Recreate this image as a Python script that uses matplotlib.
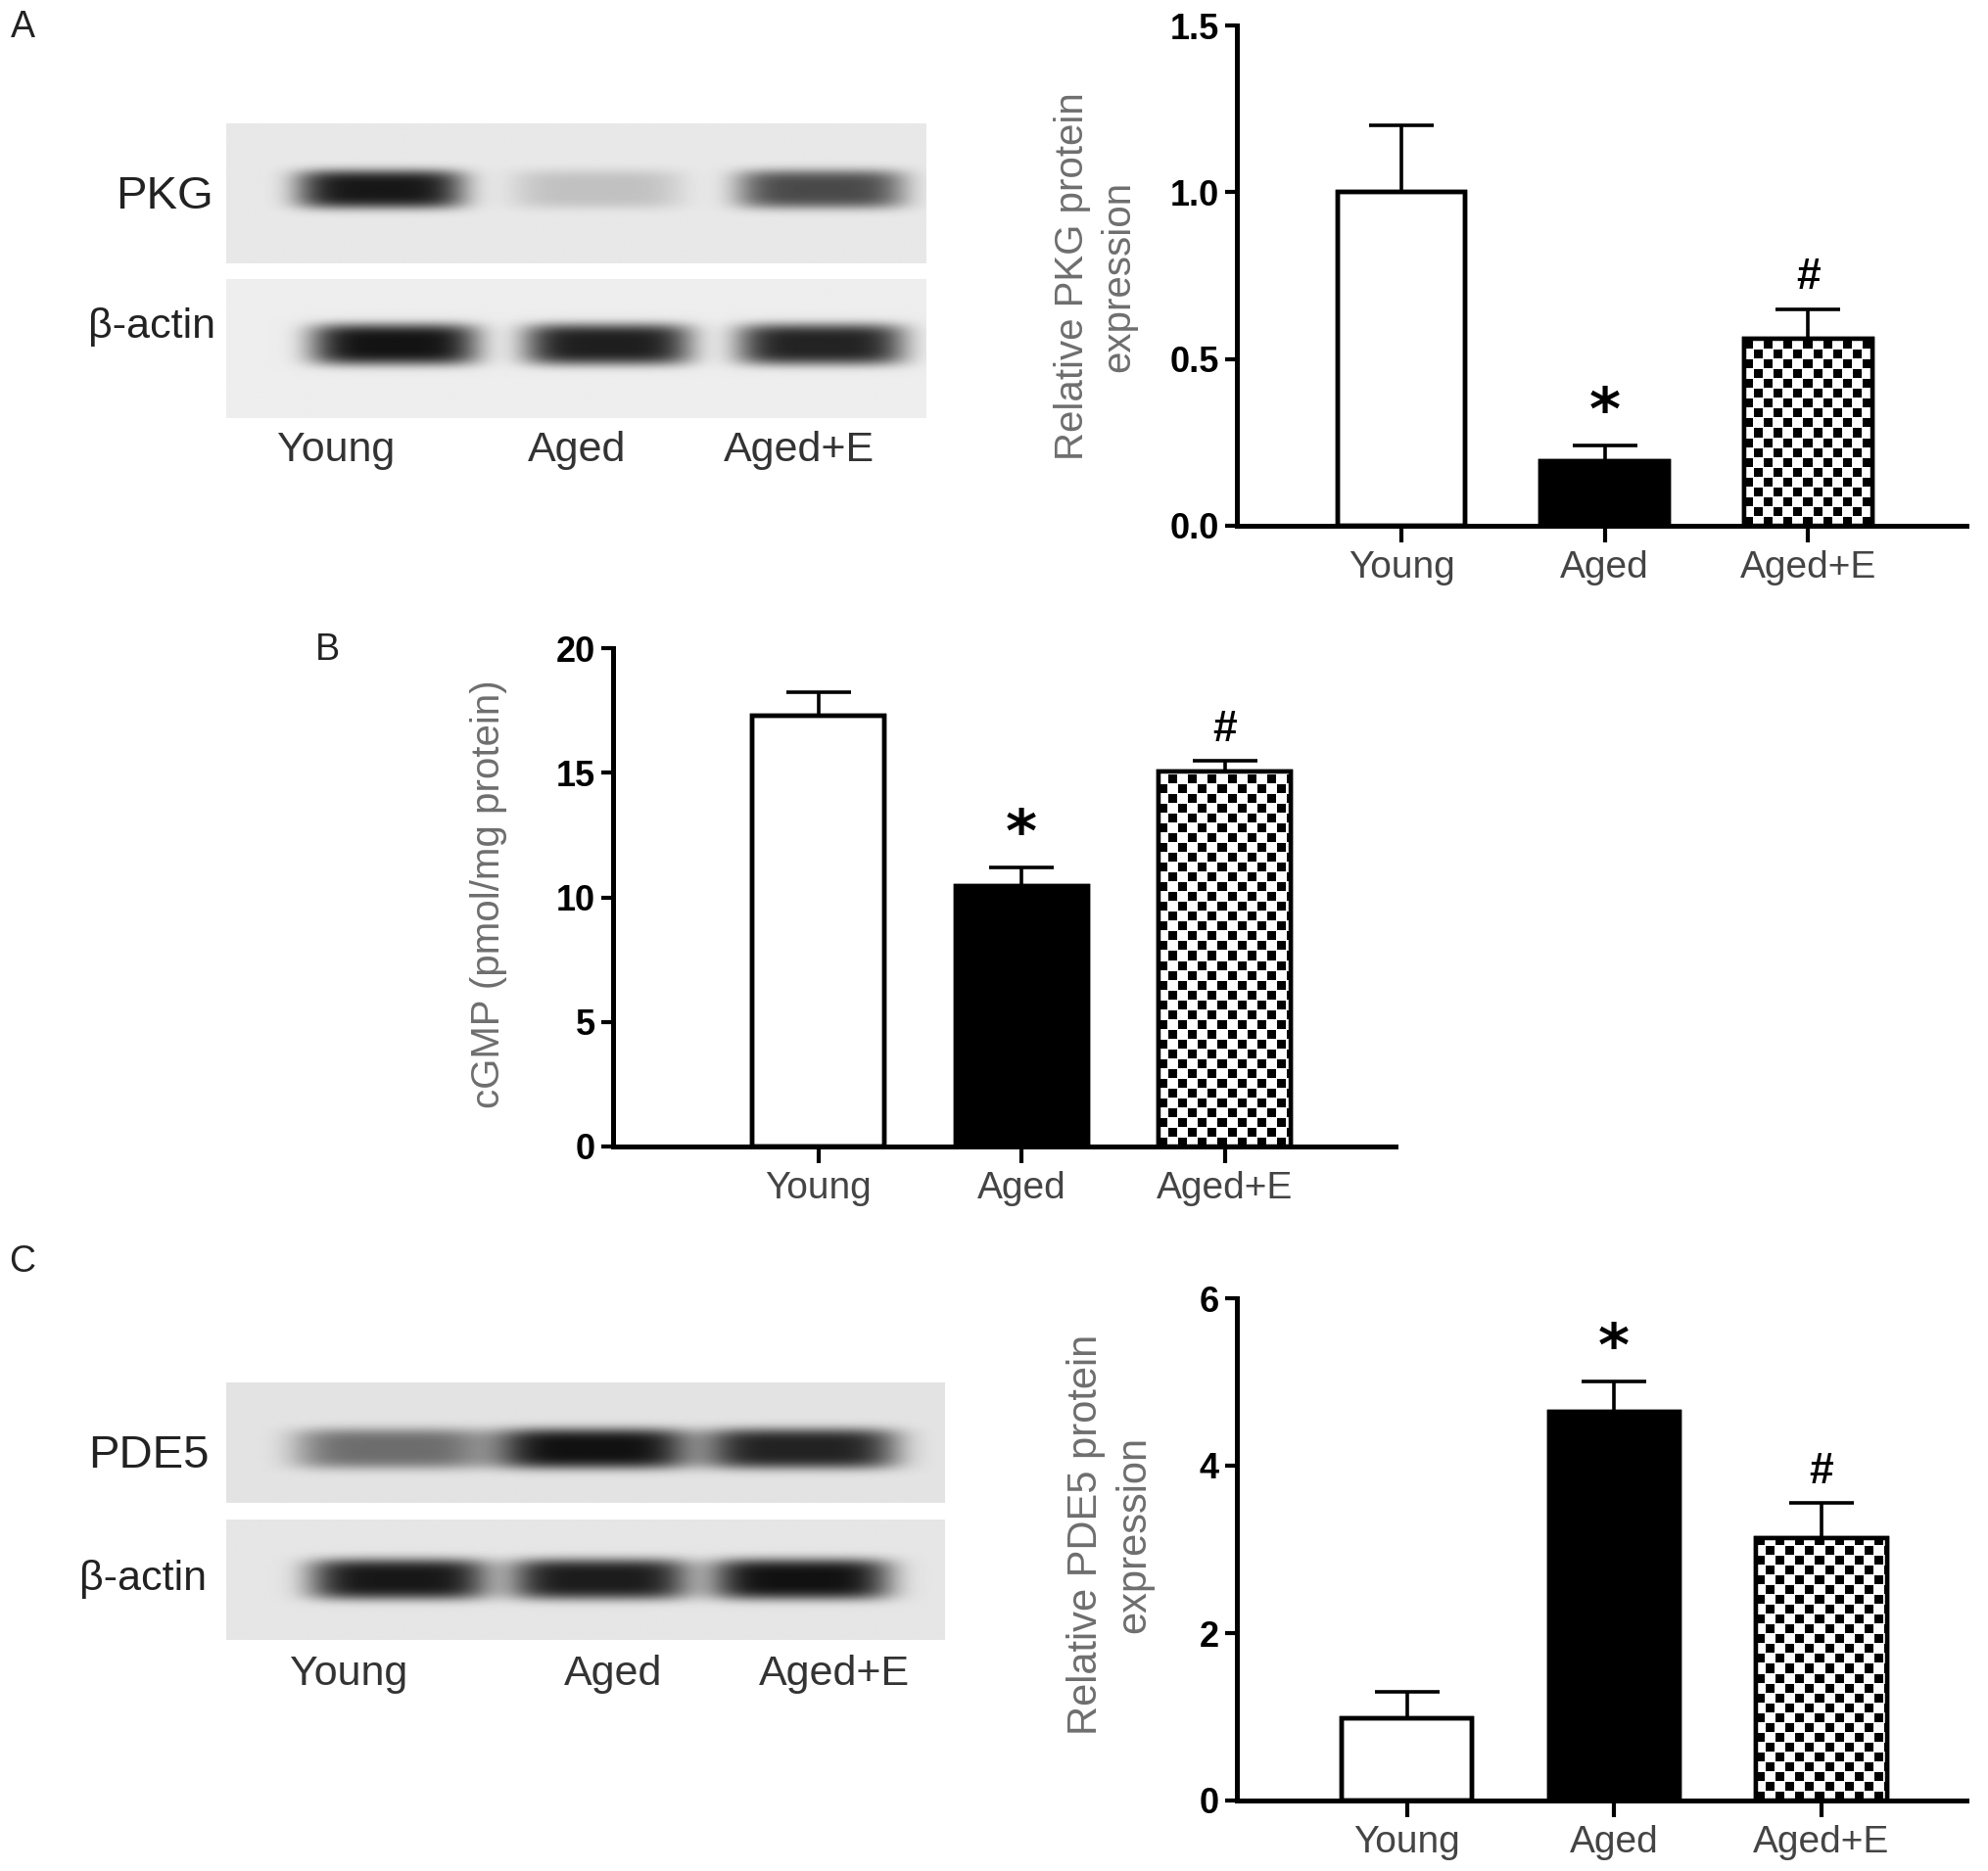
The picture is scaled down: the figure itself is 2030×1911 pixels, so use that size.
import matplotlib
matplotlib.use('Agg')
import matplotlib.pyplot as plt
import numpy as np

plt.rcParams['font.family'] = ['Liberation Sans', 'DejaVu Sans']

# data
groups = ['Young', 'Aged', 'Aged+E']
pkg_mean = [1.0, 0.195, 0.56]
pkg_sem = [0.20, 0.045, 0.09]
pkg_marks = ['', '*', '#']

cgmp_mean = [17.3, 10.45, 15.05]
cgmp_sem = [0.95, 0.75, 0.42]
cgmp_marks = ['', '*', '#']

pde5_mean = [0.98, 4.64, 3.14]
pde5_sem = [0.32, 0.37, 0.42]
pde5_marks = ['', '*', '#']

# western blot band densities (0 = none, 1 = saturated)
pkg_bands = [0.95, 0.18, 0.72]
actin_a_bands = [0.97, 0.92, 0.9]
pde5_bands = [0.55, 0.98, 0.9]
actin_c_bands = [0.95, 0.93, 0.98]

W, H = 2031, 1911
fig = plt.figure(figsize=(W / 100, H / 100), dpi=100)
fig.patch.set_facecolor('white')


def fx(x):
    return x / W


def fy(y):
    return 1 - y / H


def add_ax(x0, y0, x1, y1):
    # pixel box -> axes
    return fig.add_axes([fx(x0), fy(y1), (x1 - x0) / W, (y1 - y0) / H])


def checker_fill(ax, bar, cell=10, dot=9):
    x0, w, h = bar.get_x(), bar.get_width(), bar.get_height()
    p0 = ax.transData.transform((x0, 0))
    p1 = ax.transData.transform((x0 + w, h))
    nx = int(abs(p1[0] - p0[0]))
    ny = int(abs(p1[1] - p0[1]))
    jj, ii = np.meshgrid(np.arange(nx), np.arange(ny))
    on = ((ii // cell + jj // cell) % 2 == 0) & (ii % cell < dot) & (jj % cell < dot)
    img = np.where(on, 0.0, 1.0)
    xl, yl = ax.get_xlim(), ax.get_ylim()
    im = ax.imshow(img, extent=[x0, x0 + w, h, 0], cmap='gray', vmin=0, vmax=1,
                   interpolation='nearest', aspect='auto', zorder=2.5)
    im.set_clip_path(bar)
    ax.set_xlim(xl)
    ax.set_ylim(yl)


def bar_panel(ax, means, sems, marks, ymax, yticks, fmt, xlim, width):
    x = np.arange(len(groups))
    ax.set_xlim(xlim)
    ax.set_ylim(0, ymax)
    colors = ['white', 'black', 'white']
    bars = ax.bar(x, means, width, color=colors, edgecolor='black', linewidth=3.2, zorder=2)
    checker_fill(ax, bars[2])
    ax.bar(x, means, width, fill=False, edgecolor='black', linewidth=3.2, zorder=3)
    ax.errorbar(x, means, yerr=[[0] * len(x), sems], fmt='none', ecolor='black',
                elinewidth=2.6, capsize=24, capthick=2.6, zorder=1)
    for xi, m, s, t in zip(x, means, sems, marks):
        if t:
            off = 2 if t == '*' else 8
            ax.annotate(t, xy=(xi, m + s), xytext=(0, off), textcoords='offset points',
                        ha='center', va='bottom', fontsize=44 if t == '*' else 32,
                        fontweight='bold', family=['DejaVu Sans'] if t == '*' else None)
    ax.set_yticks(yticks)
    ax.set_yticklabels([fmt.format(v) for v in yticks], fontsize=26, fontweight='bold')
    ax.set_xticks(x)
    ax.set_xticklabels(groups, fontsize=28, color='#444444')
    for s in ['top', 'right']:
        ax.spines[s].set_visible(False)
    ax.spines['left'].set_linewidth(3.6)
    ax.spines['bottom'].set_linewidth(3.6)
    ax.spines['left'].set_bounds(0, ymax)
    ax.tick_params(axis='y', length=9, width=3, pad=4)
    ax.tick_params(axis='x', length=12, width=3, pad=6)
    ax.patch.set_visible(False)


def blot_strip(ax, dens, lanes, halfw, bg, thick, yc=0.5):
    ny, nx = 120, 600
    xs = np.linspace(0, 1, nx)
    ys = np.linspace(0, 1, ny)
    X, Y = np.meshgrid(xs, ys)
    img = np.full((ny, nx), bg)
    for c, d in zip(lanes, dens):
        prof = np.exp(-np.abs((X - c) / halfw) ** 5) * np.exp(-((Y - yc) / thick) ** 4)
        img = img - d * (bg - 0.05) * prof
    ax.imshow(img, cmap='gray', vmin=0, vmax=1, aspect='auto', extent=[0, 1, 1, 0],
              interpolation='bilinear')
    ax.set_axis_off()


# panel A blot
ax = add_ax(231, 126, 946, 269)
blot_strip(ax, pkg_bands, [0.22, 0.53, 0.85], 0.12, 0.91, 0.14, yc=0.47)
ax = add_ax(231, 285, 946, 427)
blot_strip(ax, actin_a_bands, [0.24, 0.545, 0.85], 0.12, 0.93, 0.15, yc=0.47)
fig.text(fx(218), fy(201), 'PKG', fontsize=34, ha='right', va='center', color='#222222')
fig.text(fx(220), fy(334), 'β-actin', fontsize=31, ha='right', va='center', color='#222222')
for xx, g in zip([343, 589, 816], groups):
    fig.text(fx(xx), fy(460), g, fontsize=31, ha='center', va='center', color='#333333')

# panel C blot
ax = add_ax(231, 1412, 965, 1535)
blot_strip(ax, pde5_bands, [0.23, 0.51, 0.8], 0.135, 0.89, 0.17, yc=0.55)
ax = add_ax(231, 1552, 965, 1675)
blot_strip(ax, actin_c_bands, [0.24, 0.52, 0.8], 0.125, 0.9, 0.17, yc=0.5)
fig.text(fx(214), fy(1487), 'PDE5', fontsize=34, ha='right', va='center', color='#222222')
fig.text(fx(211), fy(1613), 'β-actin', fontsize=31, ha='right', va='center', color='#222222')
for xx, g in zip([356, 626, 852], groups):
    fig.text(fx(xx), fy(1710), g, fontsize=31, ha='center', va='center', color='#333333')

# bar charts
ax_a = add_ax(1263, 26, 2008, 537)
bar_panel(ax_a, pkg_mean, pkg_sem, pkg_marks, 1.5, [0, 0.5, 1.0, 1.5], '{:.1f}',
          (-0.81, 2.78), 0.63)
ax_b = add_ax(626, 662, 1425, 1171)
bar_panel(ax_b, cgmp_mean, cgmp_sem, cgmp_marks, 20, [0, 5, 10, 15, 20], '{:.0f}',
          (-1.01, 2.84), 0.65)
ax_c = add_ax(1263, 1326, 2008, 1839)
bar_panel(ax_c, pde5_mean, pde5_sem, pde5_marks, 6, [0, 2, 4, 6], '{:.0f}',
          (-0.82, 2.7), 0.63)

ycol = '#6e6e6e'
fig.text(fx(1119), fy(282), 'Relative PKG protein\nexpression', rotation=90, fontsize=29,
         ha='center', va='center', color=ycol, multialignment='center', linespacing=1.3)
fig.text(fx(499), fy(913), 'cGMP (pmol/mg protein)', rotation=90, fontsize=29,
         ha='center', va='center', color=ycol)
fig.text(fx(1134), fy(1567), 'Relative PDE5 protein\nexpression', rotation=90, fontsize=30,
         ha='center', va='center', color=ycol, multialignment='center', linespacing=1.3)

# panel letters
fig.text(fx(23), fy(28), 'A', fontsize=27, ha='center', va='center', color='#222222')
fig.text(fx(334), fy(664), 'B', fontsize=27, ha='center', va='center', color='#222222')
fig.text(fx(23), fy(1289), 'C', fontsize=27, ha='center', va='center', color='#222222')

fig.savefig('out.png', dpi=100)
